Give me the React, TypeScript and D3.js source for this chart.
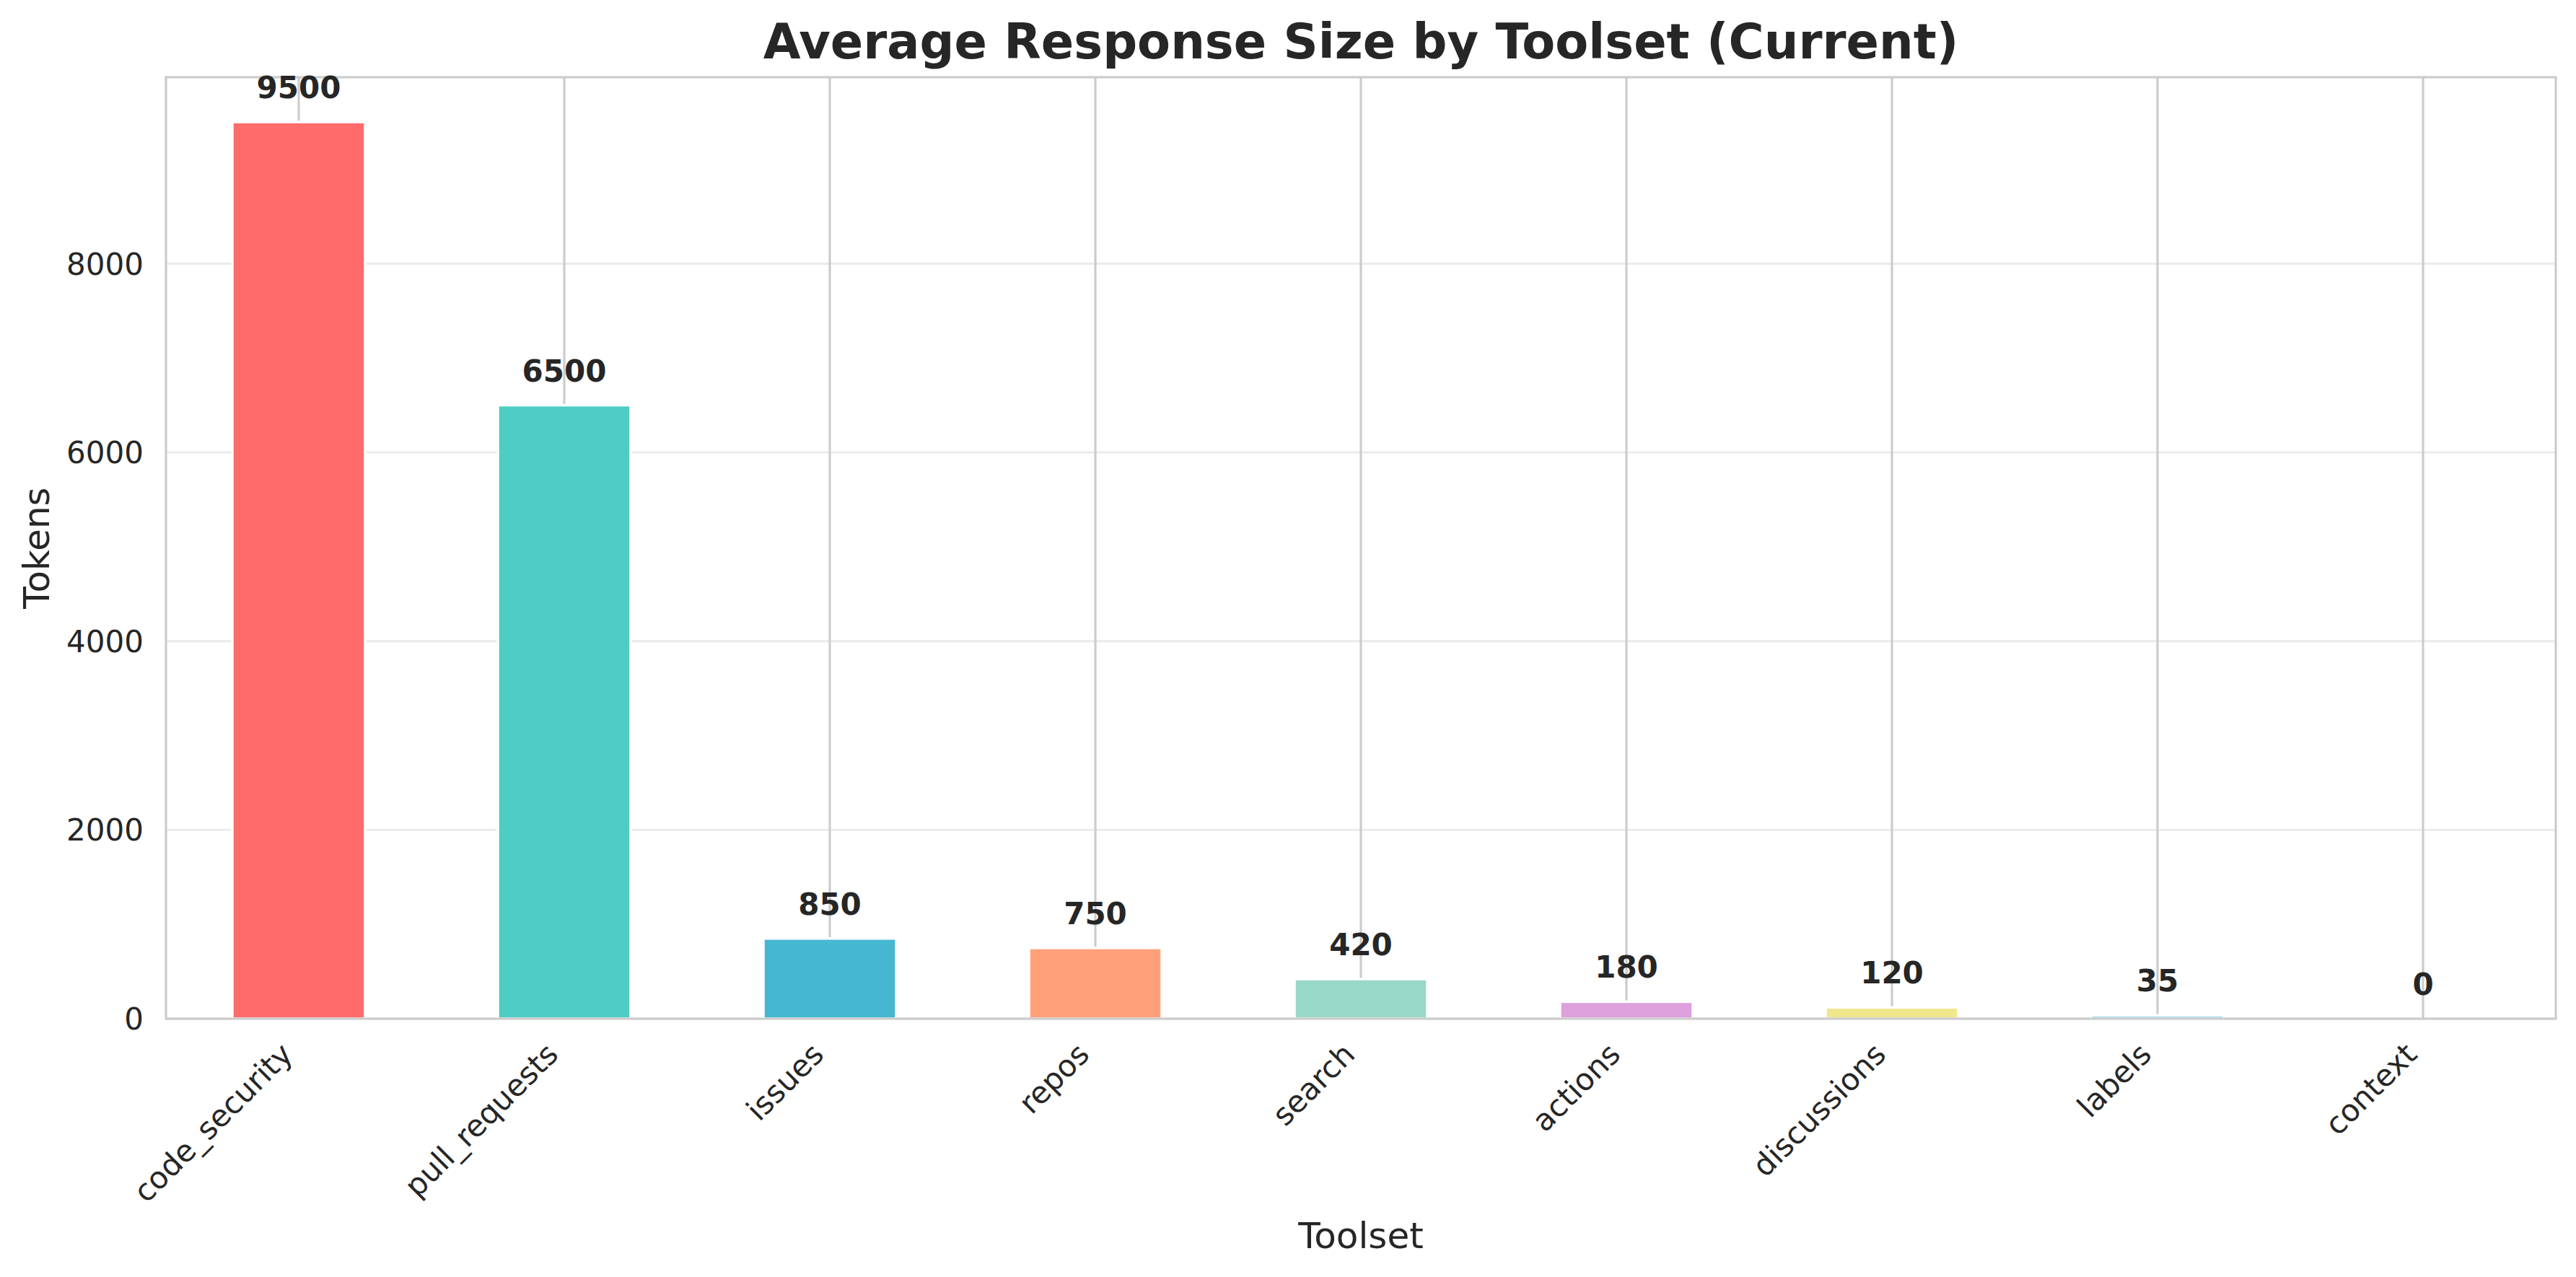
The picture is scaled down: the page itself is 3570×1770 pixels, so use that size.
import React from "react";
import * as d3 from "d3";

const categories = [
  "code_security",
  "pull_requests",
  "issues",
  "repos",
  "search",
  "actions",
  "discussions",
  "labels",
  "context",
];
const values = [9500, 6500, 850, 750, 420, 180, 120, 35, 0];
const colors = [
  "#FF6B6B",
  "#4ECDC4",
  "#45B7D1",
  "#FFA07A",
  "#98D8C8",
  "#DDA0DD",
  "#F0E68C",
  "#87CEEB",
  "#F7DC6F",
];
const yTicks = [0, 2000, 4000, 6000, 8000];

const W = 3570;
const H = 1770;
const M = { left: 230, right: 3542, top: 107, bottom: 1412 };
const FONT = "'DejaVu Sans', sans-serif";

export default function App() {
  const x = d3
    .scaleBand<string>()
    .domain(categories)
    .range([M.left, M.right])
    .paddingInner(0.5)
    .paddingOuter(0.25);
  const yMax = d3.max(values)! * 1.05;
  const y = d3.scaleLinear().domain([0, yMax]).range([M.bottom, M.top]);

  return (
    <svg
      width={W}
      height={H}
      viewBox={`0 0 ${W} ${H}`}
      style={{ position: "absolute", left: 0, top: 0, background: "#fff" }}
    >
      <rect x={0} y={0} width={W} height={H} fill="#ffffff" />
      {/* horizontal grid */}
      {yTicks.map((t) => (
        <line
          key={"hg" + t}
          x1={M.left}
          x2={M.right}
          y1={y(t)}
          y2={y(t)}
          stroke="#ebebeb"
          strokeWidth={3}
        />
      ))}
      {/* vertical grid */}
      {categories.map((c) => {
        const cx = x(c)! + x.bandwidth() / 2;
        return (
          <line
            key={"vg" + c}
            x1={cx}
            x2={cx}
            y1={M.top}
            y2={M.bottom}
            stroke="#cccccc"
            strokeWidth={3.2}
          />
        );
      })}
      {/* bars */}
      {categories.map((c, i) => (
        <rect
          key={"b" + c}
          x={x(c)!}
          y={y(values[i])}
          width={x.bandwidth()}
          height={y(0) - y(values[i])}
          fill={colors[i]}
          stroke="#ffffff"
          strokeWidth={values[i] > 0 ? 3.5 : 0}
        />
      ))}
      {/* spines */}
      <rect
        x={M.left}
        y={M.top}
        width={M.right - M.left}
        height={M.bottom - M.top}
        fill="none"
        stroke="#cccccc"
        strokeWidth={3.2}
      />
      {/* value labels */}
      {categories.map((c, i) => (
        <text
          key={"v" + c}
          x={x(c)! + x.bandwidth() / 2}
          y={y(values[i]) - 33}
          textAnchor="middle"
          fontFamily={FONT}
          fontWeight="bold"
          fontSize={42}
          fill="#262626"
        >
          {d3.format("d")(values[i])}
        </text>
      ))}
      {/* y tick labels */}
      {yTicks.map((t) => (
        <text
          key={"yt" + t}
          x={199}
          y={y(t)}
          dy="0.36em"
          textAnchor="end"
          fontFamily={FONT}
          fontSize={42}
          fill="#262626"
        >
          {t}
        </text>
      ))}
      {/* x tick labels */}
      {categories.map((c) => {
        const cx = x(c)! + x.bandwidth() / 2;
        return (
          <text
            key={"xt" + c}
            transform={`translate(${cx - 6},${M.bottom + 52}) rotate(-45)`}
            textAnchor="end"
            fontFamily={FONT}
            fontSize={42}
            fill="#262626"
          >
            {c}
          </text>
        );
      })}
      {/* axis labels */}
      <text
        x={(M.left + M.right) / 2}
        y={1730}
        textAnchor="middle"
        fontFamily={FONT}
        fontSize={50}
        fill="#262626"
      >
        Toolset
      </text>
      <text
        transform={`translate(68,${(M.top + M.bottom) / 2}) rotate(-90)`}
        textAnchor="middle"
        fontFamily={FONT}
        fontSize={50}
        fill="#262626"
      >
        Tokens
      </text>
      {/* title */}
      <text
        x={(M.left + M.right) / 2}
        y={81}
        textAnchor="middle"
        fontFamily={FONT}
        fontWeight="bold"
        fontSize={67}
        fill="#262626"
      >
        Average Response Size by Toolset (Current)
      </text>
    </svg>
  );
}
